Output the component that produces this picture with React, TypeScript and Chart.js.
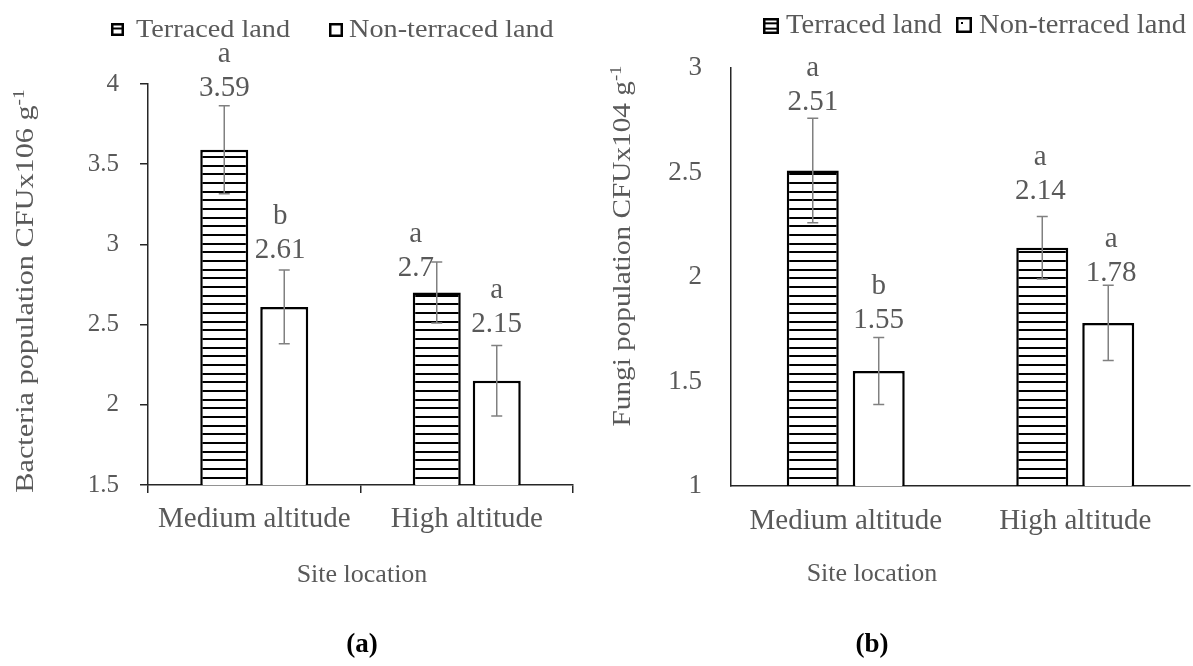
import React, { useEffect, useRef } from 'react';
import { Chart, registerables } from 'chart.js';

Chart.register(...registerables);

// ---------- data ----------
const CATEGORIES = ['Medium altitude', 'High altitude'];
const SERIES = ['Terraced land', 'Non-terraced land'];

// (a) Bacteria population
const BACT_TERRACED = [3.59, 2.7];
const BACT_NONTERRACED = [2.61, 2.15];
const BACT_ERR_TERRACED = [0.275, 0.19];
const BACT_ERR_NONTERRACED = [0.23, 0.22];
const BACT_LETTERS_TERRACED = ['a', 'a'];
const BACT_LETTERS_NONTERRACED = ['b', 'a'];
const BACT_TICKS = [1.5, 2, 2.5, 3, 3.5, 4];

// (b) Fungi population
const FUNGI_TERRACED = [2.51, 2.14];
const FUNGI_NONTERRACED = [1.55, 1.78];
const FUNGI_ERR_TERRACED = [0.25, 0.15];
const FUNGI_ERR_NONTERRACED = [0.16, 0.18];
const FUNGI_LETTERS_TERRACED = ['a', 'a'];
const FUNGI_LETTERS_NONTERRACED = ['b', 'a'];
const FUNGI_TICKS = [1, 1.5, 2, 2.5, 3];

// ---------- style / layout ----------
const W = 1193;
const H = 666;
const FONT = "'Liberation Serif', 'Times New Roman', serif";
const TEXT = '#595959';
const AXIS = '#262626';

type Panel = {
  values: number[][];
  errors: number[][];
  letters: string[][];
  ticks: number[];
  area: { left: number; top: number; right: number; bottom: number };
  catPct: number;
  barPct: number;
  yTickLen: number;
  yTickPad: number;
  yTickSize: number;
  xTickLen: number;
  xTickPad: number;
  labelShift: number[][][];
  legend: { size: number; sx: number; items: { box: number[]; lines: number; dot: boolean; tx: number; ty: number; text: string }[] };
  yTitle: { main: string; sup: string; cy: number; bx: number; size: number; sx: number };
  xTitle: { text: string; cx: number; cy: number; size: number };
  caption: { text: string; cx: number; cy: number; size: number };
};

const PANEL_A: Panel = {
  values: [BACT_TERRACED, BACT_NONTERRACED],
  errors: [BACT_ERR_TERRACED, BACT_ERR_NONTERRACED],
  letters: [BACT_LETTERS_TERRACED, BACT_LETTERS_NONTERRACED],
  ticks: BACT_TICKS,
  area: { left: 148, top: 84, right: 573, bottom: 485 },
  catPct: 0.5647,
  barPct: 0.8,
  yTickLen: 8,
  yTickPad: 21,
  yTickSize: 25,
  xTickLen: 8,
  xTickPad: 9,
  labelShift: [
    [[0, 0], [-21, 24]],
    [[-4, -2], [0, -3]],
  ],
  legend: {
    size: 25,
    sx: 1.13,
    items: [
      { box: [111, 23, 13, 13], lines: 1, dot: false, tx: 136, ty: 37, text: SERIES[0] },
      { box: [329, 23, 14, 14], lines: 0, dot: false, tx: 349, ty: 37, text: SERIES[1] },
    ],
  },
  yTitle: { main: 'Bacteria population CFUx106 g', sup: '-1', cy: 291, bx: 33, size: 25, sx: 1.21 },
  xTitle: { text: 'Site location', cx: 362, cy: 575, size: 26 },
  caption: { text: '(a)', cx: 362, cy: 645, size: 27 },
};

const PANEL_B: Panel = {
  values: [FUNGI_TERRACED, FUNGI_NONTERRACED],
  errors: [FUNGI_ERR_TERRACED, FUNGI_ERR_NONTERRACED],
  letters: [FUNGI_LETTERS_TERRACED, FUNGI_LETTERS_NONTERRACED],
  ticks: FUNGI_TICKS,
  area: { left: 731, top: 68, right: 1190, bottom: 486 },
  catPct: 0.575,
  barPct: 0.788,
  yTickLen: 0,
  yTickPad: 29,
  yTickSize: 27,
  xTickLen: 0,
  xTickPad: 18,
  labelShift: [
    [[0, 2], [-2, -7]],
    [[0, 0], [3, 6]],
  ],
  legend: {
    size: 28,
    sx: 1.02,
    items: [
      { box: [763, 18, 16, 16], lines: 2, dot: false, tx: 786, ty: 33, text: SERIES[0] },
      { box: [956, 17, 16, 16], lines: 0, dot: true, tx: 979, ty: 33, text: SERIES[1] },
    ],
  },
  yTitle: { main: 'Fungi population CFUx104 g', sup: '-1', cy: 246, bx: 630, size: 25, sx: 1.17 },
  xTitle: { text: 'Site location', cx: 872, cy: 574, size: 26 },
  caption: { text: '(b)', cx: 872, cy: 645, size: 27 },
};

function makeHatch(ctx: CanvasRenderingContext2D): CanvasPattern | string {
  const c = document.createElement('canvas');
  c.width = 8;
  c.height = 26;
  const g = c.getContext('2d');
  if (!g) return '#fff';
  g.fillStyle = '#ffffff';
  g.fillRect(0, 0, 8, 26);
  g.fillStyle = '#000000';
  g.fillRect(0, 0, 8, 2);
  g.fillRect(0, 9, 8, 2);
  g.fillRect(0, 17, 8, 2);
  return ctx.createPattern(c, 'repeat') || '#fff';
}

function drawText(
  ctx: CanvasRenderingContext2D,
  text: string,
  x: number,
  y: number,
  size: number,
  opts: { sx?: number; align?: CanvasTextAlign; baseline?: CanvasTextBaseline; color?: string; bold?: boolean } = {}
) {
  ctx.save();
  ctx.translate(x, y);
  ctx.scale(opts.sx ?? 1, 1);
  ctx.font = `${opts.bold ? 'bold ' : ''}${size}px ${FONT}`;
  ctx.fillStyle = opts.color ?? TEXT;
  ctx.textAlign = opts.align ?? 'left';
  ctx.textBaseline = opts.baseline ?? 'alphabetic';
  ctx.fillText(text, 0, 0);
  ctx.restore();
}

function panelPlugin(p: Panel) {
  return {
    id: 'panelExtras',
    afterDatasetsDraw(chart: any) {
      const ctx: CanvasRenderingContext2D = chart.ctx;
      const yScale = chart.scales.y;
      p.values.forEach((vals, di) => {
        const meta = chart.getDatasetMeta(di);
        meta.data.forEach((bar: any, i: number) => {
          const v = vals[i];
          const e = p.errors[di][i];
          const x = bar.x;
          const yTop = yScale.getPixelForValue(v + e);
          const yBot = yScale.getPixelForValue(v - e);
          ctx.save();
          ctx.strokeStyle = '#808080';
          ctx.lineWidth = 1.5;
          ctx.beginPath();
          ctx.moveTo(x, yTop);
          ctx.lineTo(x, yBot);
          ctx.moveTo(x - 5.5, yTop);
          ctx.lineTo(x + 5.5, yTop);
          ctx.moveTo(x - 5.5, yBot);
          ctx.lineTo(x + 5.5, yBot);
          ctx.stroke();
          ctx.restore();
          const sh = p.labelShift[di][i];
          const nb = yTop - 10 + sh[1];
          drawText(ctx, String(v), x + sh[0], nb, 29, { align: 'center' });
          drawText(ctx, p.letters[di][i], x + sh[0], nb - 34, 29, { align: 'center' });
        });
      });
    },
    afterDraw(chart: any) {
      const ctx: CanvasRenderingContext2D = chart.ctx;
      // legend
      p.legend.items.forEach((it) => {
        const [bx, by, bw, bh] = it.box;
        ctx.save();
        ctx.fillStyle = '#fff';
        ctx.fillRect(bx, by, bw, bh);
        ctx.strokeStyle = '#000';
        ctx.lineWidth = 2.5;
        ctx.strokeRect(bx + 1.25, by + 1.25, bw - 2.5, bh - 2.5);
        ctx.lineWidth = 2;
        for (let k = 1; k <= it.lines; k++) {
          const ly = by + (bh * k) / (it.lines + 1) + (it.lines === 1 ? -1 : 0);
          ctx.beginPath();
          ctx.moveTo(bx + 1, ly);
          ctx.lineTo(bx + bw - 1, ly);
          ctx.stroke();
        }
        if (it.dot) {
          ctx.fillStyle = '#000';
          ctx.fillRect(bx + 5, by + 5, 2, 2);
        }
        ctx.restore();
        drawText(ctx, it.text, it.tx, it.ty, p.legend.size, { sx: p.legend.sx });
      });
      // y title (rotated, with superscript)
      const t = p.yTitle;
      ctx.save();
      ctx.translate(t.bx, t.cy);
      ctx.rotate(-Math.PI / 2);
      ctx.scale(t.sx, 1);
      ctx.fillStyle = TEXT;
      ctx.textBaseline = 'alphabetic';
      ctx.textAlign = 'left';
      const supSize = Math.round(t.size * 0.64);
      ctx.font = `${t.size}px ${FONT}`;
      const w1 = ctx.measureText(t.main).width;
      ctx.font = `${supSize}px ${FONT}`;
      const w2 = ctx.measureText(t.sup).width;
      const start = -(w1 + w2) / 2;
      ctx.font = `${t.size}px ${FONT}`;
      ctx.fillText(t.main, start, 0);
      ctx.font = `${supSize}px ${FONT}`;
      ctx.fillText(t.sup, start + w1, -t.size * 0.36);
      ctx.restore();
      // x title and caption
      drawText(ctx, p.xTitle.text, p.xTitle.cx, p.xTitle.cy, p.xTitle.size, { align: 'center', baseline: 'middle' });
      drawText(ctx, p.caption.text, p.caption.cx, p.caption.cy, p.caption.size, {
        align: 'center',
        baseline: 'middle',
        bold: true,
        color: '#000',
      });
    },
  };
}

function buildChart(canvas: HTMLCanvasElement, p: Panel) {
  const ctx = canvas.getContext('2d') as CanvasRenderingContext2D;
  const hatch = makeHatch(ctx);
  const a = p.area;
  return new Chart(canvas, {
    type: 'bar',
    data: {
      labels: CATEGORIES,
      datasets: [
        {
          label: SERIES[0],
          data: p.values[0],
          backgroundColor: hatch as any,
          borderColor: '#000',
          borderWidth: 2.5,
          borderSkipped: false,
          categoryPercentage: p.catPct,
          barPercentage: p.barPct,
        },
        {
          label: SERIES[1],
          data: p.values[1],
          backgroundColor: '#ffffff',
          borderColor: '#000',
          borderWidth: 2.5,
          borderSkipped: false,
          categoryPercentage: p.catPct,
          barPercentage: p.barPct,
        },
      ],
    },
    options: {
      responsive: false,
      animation: false,
      devicePixelRatio: 1,
      layout: {
        padding: { left: 0, top: a.top, right: W - a.right, bottom: 0 },
      },
      plugins: {
        legend: { display: false },
        tooltip: { enabled: false },
        title: { display: false },
      },
      scales: {
        x: {
          type: 'category',
          offset: true,
          grid: {
            display: p.xTickLen > 0,
            drawOnChartArea: false,
            drawTicks: p.xTickLen > 0,
            tickLength: p.xTickLen,
            offset: true,
            color: AXIS,
            lineWidth: 1.5,
          },
          border: { display: true, color: AXIS, width: 1.5 },
          ticks: {
            color: TEXT,
            font: { family: FONT, size: 29 },
            padding: p.xTickPad,
            maxRotation: 0,
            autoSkip: false,
          },
          afterFit: (s: any) => {
            s.height = H - a.bottom;
          },
        },
        y: {
          type: 'linear',
          min: p.ticks[0],
          max: p.ticks[p.ticks.length - 1],
          afterBuildTicks: (s: any) => {
            s.ticks = p.ticks.map((v) => ({ value: v }));
          },
          grid: {
            display: p.yTickLen > 0,
            drawOnChartArea: false,
            drawTicks: p.yTickLen > 0,
            tickLength: p.yTickLen,
            color: AXIS,
            lineWidth: 1.5,
          },
          border: { display: true, color: AXIS, width: 1.5 },
          ticks: {
            color: TEXT,
            font: { family: FONT, size: p.yTickSize },
            padding: p.yTickPad,
            callback: (v: any) => String(v),
          },
          afterFit: (s: any) => {
            s.width = a.left;
          },
        },
      },
    },
    plugins: [panelPlugin(p)],
  } as any);
}

export default function App() {
  const refA = useRef<HTMLCanvasElement>(null);
  const refB = useRef<HTMLCanvasElement>(null);

  useEffect(() => {
    const charts: Chart[] = [];
    if (refA.current) charts.push(buildChart(refA.current, PANEL_A));
    if (refB.current) charts.push(buildChart(refB.current, PANEL_B));
    return () => {
      charts.forEach((c) => c.destroy());
    };
  }, []);

  const cstyle: React.CSSProperties = {
    position: 'absolute',
    left: 0,
    top: 0,
    width: `${W}px`,
    height: `${H}px`,
  };

  return (
    <div style={{ position: 'absolute', left: 0, top: 0, width: W, height: H, background: '#ffffff', overflow: 'hidden' }}>
      <canvas ref={refA} width={W} height={H} style={cstyle} />
      <canvas ref={refB} width={W} height={H} style={cstyle} />
    </div>
  );
}
